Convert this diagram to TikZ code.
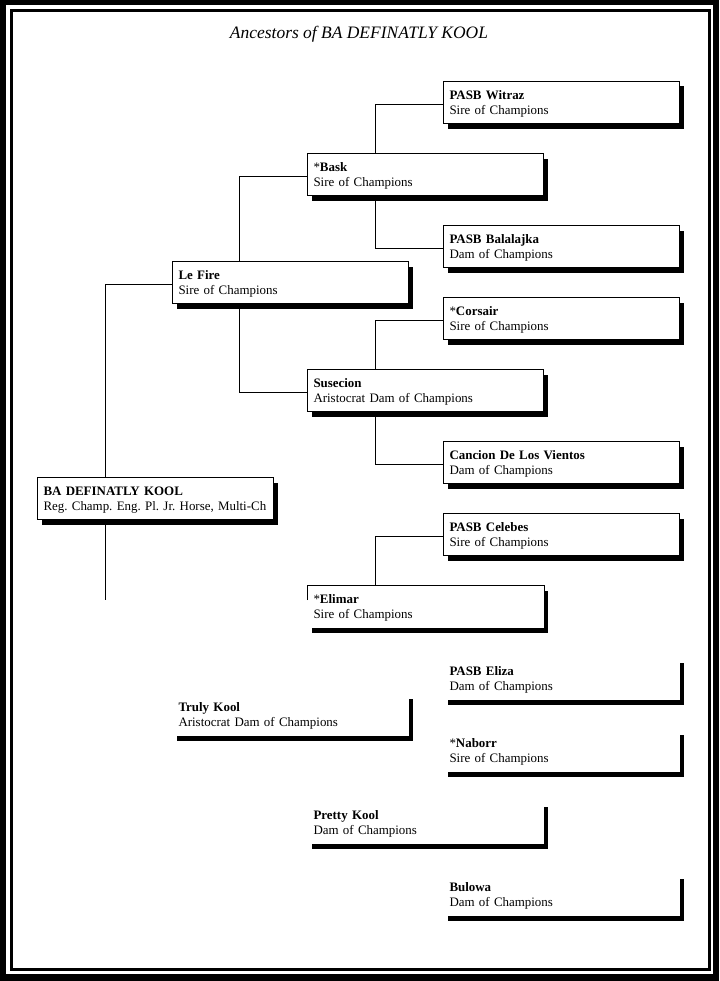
\documentclass[tikz,border=0pt]{standalone}
\usepackage{fontspec}
\setmainfont{Liberation Serif}
\usetikzlibrary{shadows, backgrounds}
\tikzset{
  horse/.style={draw, fill=white, line width=0.75pt, anchor=north west,
    minimum width=177pt, minimum height=31.5pt, text width=168pt,
    inner xsep=4.5pt, inner ysep=0pt, align=left,
    text height=6.6pt, text depth=11.1pt,
    font=\fontsize{9.7pt}{11.25pt}\selectfont\frenchspacing,
    general shadow={shadow xshift=3pt, shadow yshift=-3.75pt, fill=black}},
  bare/.style={horse, draw=none},
  link/.style={line width=0.75pt}
}

\begin{document}
\begin{tikzpicture}[x=0.75pt, y=-0.75pt]
\useasboundingbox (0,0) rectangle (719,981);
%% frame
\begin{pgfonlayer}{background}
  \fill[black] (0,0) rectangle (719,981);
  \fill[white] (6,5) rectangle (713,974);
  \draw[line width=2.25pt] (11.5,10.5) rectangle (709.5,969.5);
\end{pgfonlayer}
\node[anchor=base, font=\fontsize{13.1pt}{15pt}\selectfont\itshape] (title) at (359,38.5) {Ancestors of BA DEFINATLY KOOL};
%% first generation
  \node[horse] (BA) at (37,477) {\textbf{BA DEFINATLY KOOL}\\\mbox{Reg. Champ. Eng. Pl. Jr. Horse, Multi-Ch}};
  \coordinate (BAtail) at (105,600);
%% second generation
  \node[horse] (LeFire) at (172,261) {\textbf{Le Fire}\\Sire of Champions};
  \node[bare] (TrulyKool) at (172,693) {\textbf{Truly Kool}\\Aristocrat Dam of Champions};
%% third generation
  \node[horse] (Bask) at (307,153) {*\textbf{Bask}\\Sire of Champions};
  \node[horse] (Susecion) at (307,369) {\textbf{Susecion}\\Aristocrat Dam of Champions};
  \node[bare] (Elimar) at (307,585) {*\textbf{Elimar}\\Sire of Champions};
  \node[bare] (PrettyKool) at (307,801) {\textbf{Pretty Kool}\\Dam of Champions};
  \draw[link] ([yshift=-11.25pt]Elimar.north west) -- (Elimar.north west) -- (Elimar.north east) -- (Elimar.south east);
%% fourth generation
  \node[horse] (Witraz) at (443,81) {\textbf{PASB Witraz}\\Sire of Champions};
  \node[horse] (Balalajka) at (443,225) {\textbf{PASB Balalajka}\\Dam of Champions};
  \node[horse] (Corsair) at (443,297) {*\textbf{Corsair}\\Sire of Champions};
  \node[horse] (Cancion) at (443,441) {\textbf{Cancion De Los Vientos}\\Dam of Champions};
  \node[horse] (Celebes) at (443,513) {\textbf{PASB Celebes}\\Sire of Champions};
  \node[bare] (Eliza) at (443,657) {\textbf{PASB Eliza}\\Dam of Champions};
  \node[bare] (Naborr) at (443,729) {*\textbf{Naborr}\\Sire of Champions};
  \node[bare] (Bulowa) at (443,873) {\textbf{Bulowa}\\Dam of Champions};
%% lines
\begin{pgfonlayer}{background}
  \draw[link] ([xshift=51pt]BA.north west) |- ([yshift=-1.5pt]LeFire.west);
  \draw[link] ([xshift=51pt]BA.south west) -- (BAtail);
  \draw[link] ([xshift=50.25pt]LeFire.north west) |- ([yshift=-1.5pt]Bask.west);
  \draw[link] ([xshift=50.25pt]LeFire.south west) |- ([yshift=-1.5pt]Susecion.west);
  \draw[link] ([xshift=51pt]Bask.north west) |- ([yshift=-1.5pt]Witraz.west);
  \draw[link] ([xshift=51pt]Bask.south west) |- ([yshift=-1.5pt]Balalajka.west);
  \draw[link] ([xshift=51pt]Susecion.north west) |- ([yshift=-1.5pt]Corsair.west);
  \draw[link] ([xshift=51pt]Susecion.south west) |- ([yshift=-1.5pt]Cancion.west);
  \draw[link] ([xshift=51pt]Elimar.north west) |- ([yshift=-1.5pt]Celebes.west);
\end{pgfonlayer}
\end{tikzpicture}
\end{document}
